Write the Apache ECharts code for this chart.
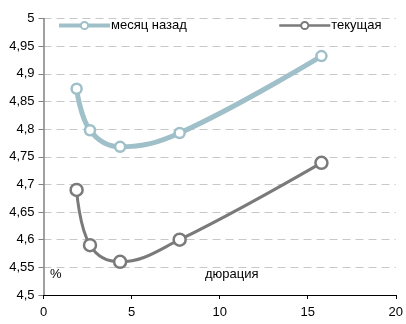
<!DOCTYPE html>
<html>
<head>
<meta charset="utf-8">
<script src="https://cdn.jsdelivr.net/npm/echarts@6/dist/echarts.min.js"></script>
<style>
  html, body { margin: 0; padding: 0; background: #fff; }
  #chart { width: 406px; height: 324px; }
</style>
</head>
<body>
<div id="chart"></div>
<script>
// Yield curves by duration (years) and yield (%)
const seriesNames = ['месяц назад', 'текущая'];
const durations = [1.88, 2.64, 4.35, 7.73, 15.78];
const monthAgo = [4.873, 4.798, 4.768, 4.793, 4.932];
const current = [4.69, 4.59, 4.56, 4.60, 4.739];
const xTicks = [0, 5, 10, 15, 20];
const yTicks = [4.5, 4.55, 4.6, 4.65, 4.7, 4.75, 4.8, 4.85, 4.9, 4.95, 5];

const FONT = 'Arial, "Liberation Sans", sans-serif';
const FS = 13;
const pairs = (ys) => durations.map((x, i) => [x, ys[i]]);
const fmt = (v) => String(Math.round(v * 100) / 100).replace('.', ',');

const legendBase = {
  itemWidth: 51, itemHeight: 9, itemGap: 0, top: 14,
  textStyle: { fontFamily: FONT, fontSize: FS, color: '#000', padding: [0, 0, 0, -4] }
};

const chart = echarts.init(document.getElementById('chart'), null, { renderer: 'canvas' });
chart.setOption({
  animation: false,
  backgroundColor: '#fff',
  textStyle: { fontFamily: FONT },
  grid: { left: 43.5, right: 6, top: 18.5, bottom: 29, containLabel: false },
  legend: [
    Object.assign({}, legendBase, {
      data: [seriesNames[0]], left: 52,
      lineStyle: { width: 4 }
    }),
    Object.assign({}, legendBase, {
      data: [seriesNames[1]], left: 273,
      lineStyle: { width: 2.5 }
    })
  ],
  xAxis: {
    type: 'value', min: xTicks[0], max: xTicks[xTicks.length - 1], interval: 5,
    axisLine: { show: true, onZero: false, lineStyle: { color: '#000', width: 1 } },
    axisTick: { show: true, length: 4, lineStyle: { color: '#000' } },
    axisLabel: { color: '#000', fontSize: FS, fontFamily: FONT, margin: 11 },
    splitLine: { show: false }
  },
  yAxis: {
    type: 'value', min: yTicks[0], max: yTicks[yTicks.length - 1], interval: 0.05,
    axisLine: { show: true, lineStyle: { color: '#808080', width: 1.5 } },
    axisTick: { show: true, length: 5, lineStyle: { color: '#808080' } },
    axisLabel: { color: '#000', fontSize: FS, fontFamily: FONT, margin: 9, formatter: fmt },
    splitLine: { show: true, lineStyle: { color: '#c8c8c8', type: [8, 5], width: 1 } }
  },
  graphic: [
    { type: 'text', left: 50, top: 268, style: { text: '%', font: FS + 'px ' + FONT, fill: '#000' } },
    { type: 'text', left: 205, top: 268, style: { text: 'дюрация', font: FS + 'px ' + FONT, fill: '#000' } }
  ],
  series: [
    {
      name: seriesNames[0], type: 'line', data: pairs(monthAgo), smooth: 0.4,
      symbol: 'circle', symbolSize: 10,
      lineStyle: { color: '#9fbfc9', width: 5 },
      itemStyle: { color: '#fff', borderColor: '#9fbfc9', borderWidth: 2.5 },
      z: 3
    },
    {
      name: seriesNames[1], type: 'line', data: pairs(current), smooth: 0.4,
      symbol: 'circle', symbolSize: 12,
      lineStyle: { color: '#7a7a7a', width: 3 },
      itemStyle: { color: '#fff', borderColor: '#7a7a7a', borderWidth: 2.5 },
      z: 3
    }
  ]
});
</script>
</body>
</html>
